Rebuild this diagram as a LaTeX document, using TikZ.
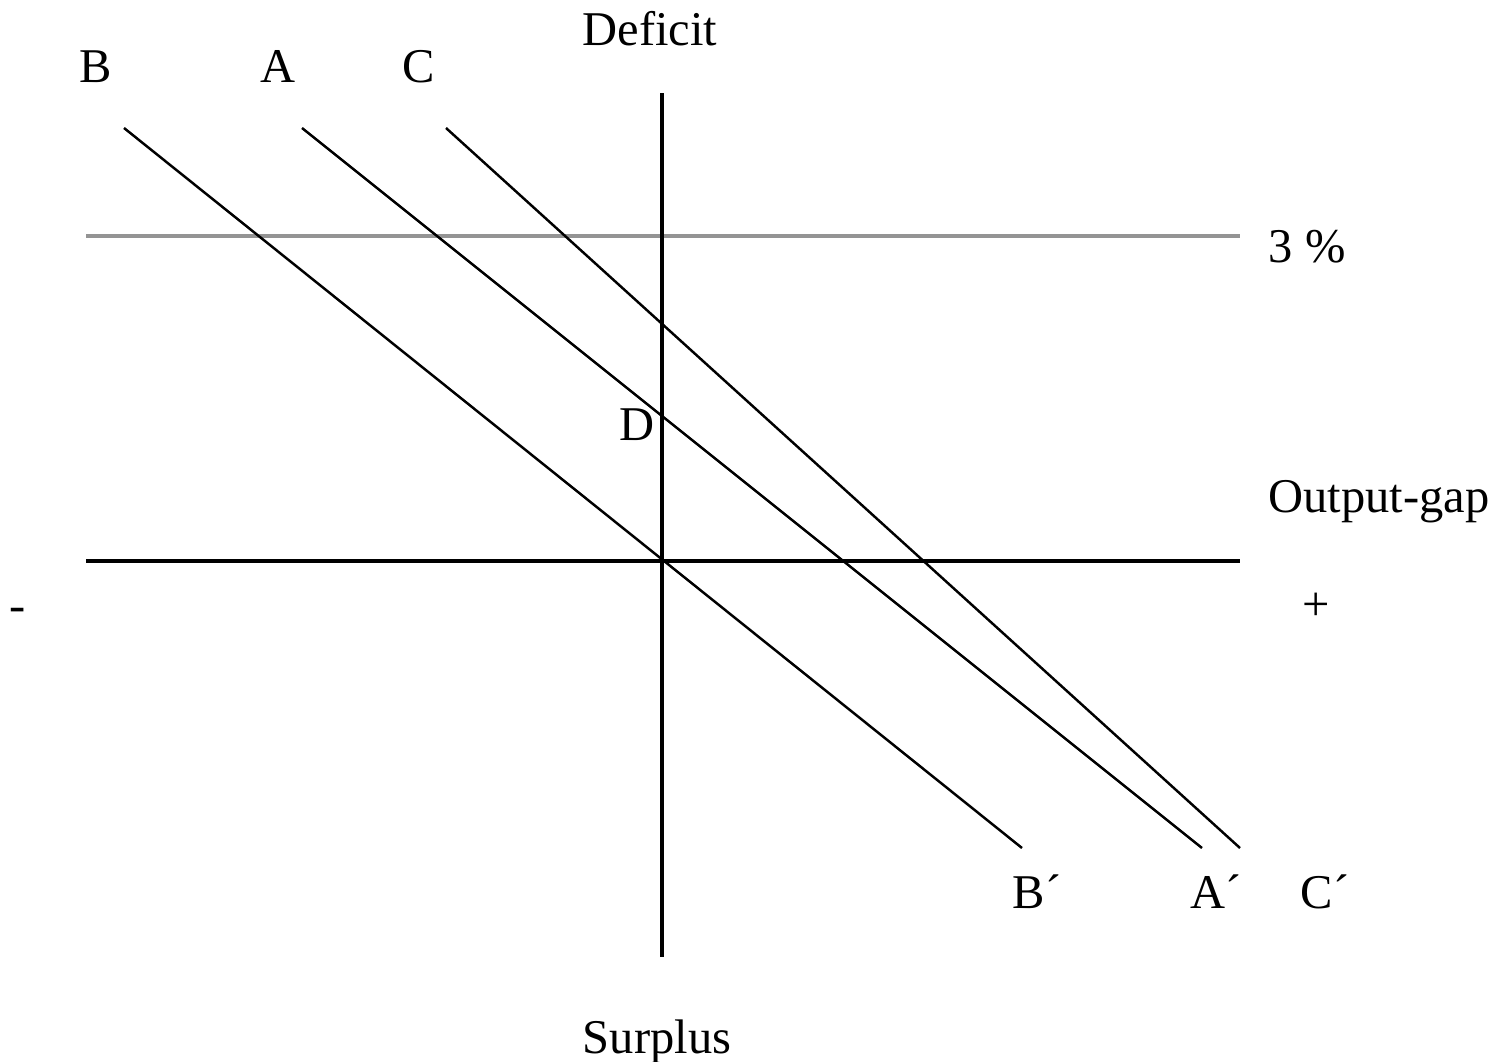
\documentclass[tikz,border=0pt]{standalone}
\usepackage{fontspec}
\setmainfont{Liberation Serif}
\usepackage{xcolor}
\usetikzlibrary{positioning}

\begin{document}
\begin{tikzpicture}[
    axis/.style={line width=0.9pt, black},
    curve/.style={line width=0.7pt, black},
    limit/.style={line width=0.9pt, color=black!42},
    lbl/.style={font=\fontsize{13.8}{16}\selectfont, inner sep=0pt, anchor=base}
]
    \useasboundingbox (0,0) rectangle (14.93,10.61);

    % axes
    \coordinate (Ytop) at (6.62,9.68);
    \coordinate (Ybot) at (6.62,1.04);
    \coordinate (Xl) at (0.86,5.00);
    \coordinate (Xr) at (12.40,5.00);
    \coordinate (Gl) at (0.86,8.25);
    \coordinate (Gr) at (12.40,8.25);

    \draw[limit] (Gl) -- (Gr);
    \draw[axis] (Ytop) -- (Ybot);
    \draw[axis] (Xl) -- (Xr);

    % budget lines
    \coordinate (B0) at (1.24,9.33);
    \coordinate (B1) at (10.22,2.13);
    \coordinate (A0) at (3.02,9.33);
    \coordinate (A1) at (12.02,2.13);
    \coordinate (C0) at (4.46,9.33);
    \coordinate (C1) at (12.40,2.13);

    \draw[curve] (B0) -- (B1);
    \draw[curve] (A0) -- (A1);
    \draw[curve] (C0) -- (C1);

    % labels
    \node[lbl] (Bname) at (0.96,9.79) {B};
    \node[lbl] (Aname) at (2.78,9.79) {A};
    \node[lbl] (Cname) at (4.19,9.79) {C};
    \node[lbl] (deficit) at (6.50,10.16) {Deficit};
    \node[lbl, anchor=base west] (pct) at (12.68,7.99) {3 \%};
    \node[lbl] (D) at (6.37,6.21) {D};
    \node[lbl, anchor=base west] (gap) at (12.68,5.49) {Output-gap};
    \node[lbl] (minus) at (0.18,4.40) {-};
    \node[lbl] (plus) at (13.16,4.41) {+};
    \node[lbl] (Bend) at (10.37,1.53) {B´};
    \node[lbl] (Aend) at (12.16,1.53) {A´};
    \node[lbl] (Cend) at (13.25,1.53) {C´};
    \node[lbl] (surplus) at (6.57,0.08) {Surplus};
\end{tikzpicture}
\end{document}
